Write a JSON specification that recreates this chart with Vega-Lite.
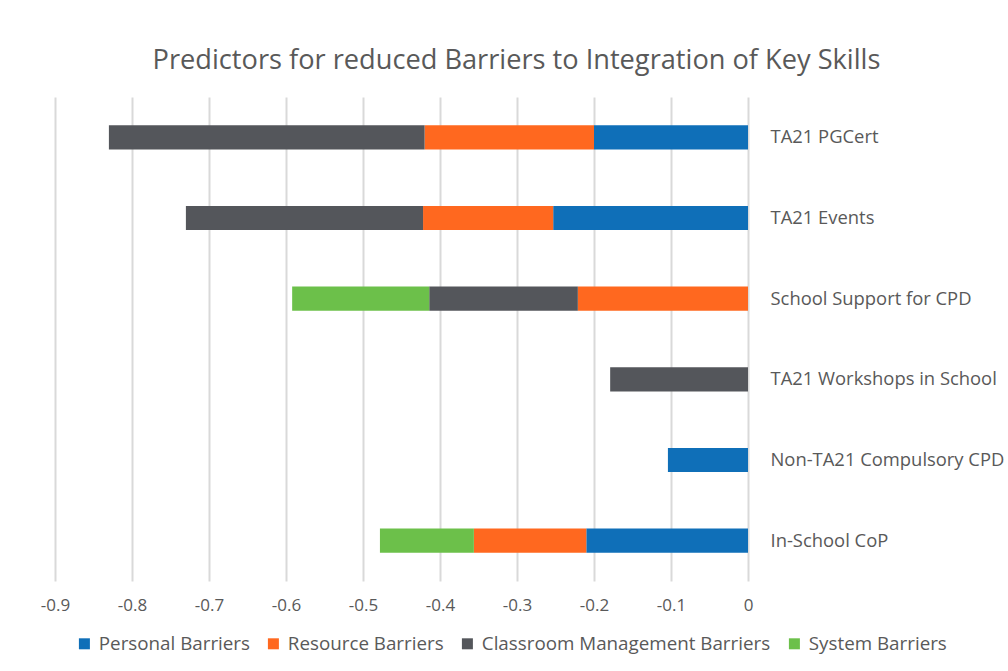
{
  "$schema": "https://vega.github.io/schema/vega-lite/v6.json",
  "autosize": {"type": "none"},
  "width": 693,
  "height": 484,
  "padding": {"left": 55, "top": 97, "right": 260, "bottom": 90},
  "background": "white",
  "title": {
    "text": "Predictors for reduced Barriers to Integration of Key Skills",
    "font": "Open Sans",
    "fontSize": 27.2,
    "fontWeight": "normal",
    "color": "#595959",
    "anchor": "middle",
    "dx": 115,
    "offset": 22
  },
  "datasets": {
    "barriers": [
      {"barrier": "Personal Barriers", "rank": 1},
      {"barrier": "Resource Barriers", "rank": 2},
      {"barrier": "Classroom Management Barriers", "rank": 3},
      {"barrier": "System Barriers", "rank": 4}
    ]
  },
  "data": {
    "values": [
      {"predictor": "TA21 PGCert", "barrier": "Personal Barriers", "value": -0.2},
      {"predictor": "TA21 PGCert", "barrier": "Resource Barriers", "value": -0.22},
      {"predictor": "TA21 PGCert", "barrier": "Classroom Management Barriers", "value": -0.41},
      {"predictor": "TA21 Events", "barrier": "Personal Barriers", "value": -0.253},
      {"predictor": "TA21 Events", "barrier": "Resource Barriers", "value": -0.169},
      {"predictor": "TA21 Events", "barrier": "Classroom Management Barriers", "value": -0.308},
      {"predictor": "School Support for CPD", "barrier": "Resource Barriers", "value": -0.221},
      {"predictor": "School Support for CPD", "barrier": "Classroom Management Barriers", "value": -0.193},
      {"predictor": "School Support for CPD", "barrier": "System Barriers", "value": -0.178},
      {"predictor": "TA21 Workshops in School", "barrier": "Classroom Management Barriers", "value": -0.179},
      {"predictor": "Non-TA21 Compulsory CPD", "barrier": "Personal Barriers", "value": -0.104},
      {"predictor": "In-School CoP", "barrier": "Personal Barriers", "value": -0.21},
      {"predictor": "In-School CoP", "barrier": "Resource Barriers", "value": -0.146},
      {"predictor": "In-School CoP", "barrier": "System Barriers", "value": -0.122}
    ]
  },
  "transform": [
    {"lookup": "barrier", "from": {"data": {"name": "barriers"}, "key": "barrier", "fields": ["rank"]}}
  ],
  "mark": {"type": "bar"},
  "encoding": {
    "y": {
      "field": "predictor",
      "type": "nominal",
      "sort": ["TA21 PGCert", "TA21 Events", "School Support for CPD", "TA21 Workshops in School", "Non-TA21 Compulsory CPD", "In-School CoP"],
      "scale": {"paddingInner": 0.7, "paddingOuter": 0.35},
      "axis": {
        "orient": "right",
        "title": null,
        "domain": false,
        "ticks": false,
        "grid": false,
        "labelAlign": "left",
        "labelPadding": 22,
        "labelFont": "Open Sans",
        "labelFontSize": 18.4,
        "labelColor": "#595959",
        "labelLimit": 0
      }
    },
    "x": {
      "field": "value",
      "type": "quantitative",
      "stack": "zero",
      "scale": {"domain": [-0.9, 0], "nice": false},
      "axis": {
        "title": null,
        "values": [-0.9, -0.8, -0.7, -0.6, -0.5, -0.4, -0.3, -0.2, -0.1, 0],
        "labelExpr": "datum.value == 0 ? '0' : '-' + format(abs(datum.value), '.1f')",
        "domain": false,
        "ticks": false,
        "grid": true,
        "gridColor": "#D9D9D9",
        "gridWidth": 2,
        "labelFont": "Open Sans",
        "labelFontSize": 17,
        "labelColor": "#595959",
        "labelPadding": 16,
        "labelFlush": false
      }
    },
    "order": {"field": "rank", "type": "quantitative", "sort": "ascending"},
    "color": {
      "field": "barrier",
      "type": "nominal",
      "sort": ["Personal Barriers", "Resource Barriers", "Classroom Management Barriers", "System Barriers"],
      "scale": {
        "domain": ["Personal Barriers", "Resource Barriers", "Classroom Management Barriers", "System Barriers"],
        "range": ["#0F6FB8", "#FF681F", "#54565B", "#6CC04A"]
      },
      "legend": {
        "title": null,
        "orient": "none",
        "direction": "horizontal",
        "legendX": 20,
        "legendY": 537,
        "symbolType": "square",
        "symbolSize": 121,
        "symbolStrokeWidth": 0,
        "labelFont": "Open Sans",
        "labelFontSize": 18.8,
        "labelColor": "#595959",
        "labelOffset": 5,
        "columnPadding": 14,
        "labelLimit": 0
      }
    }
  },
  "config": {"view": {"stroke": null}}
}
